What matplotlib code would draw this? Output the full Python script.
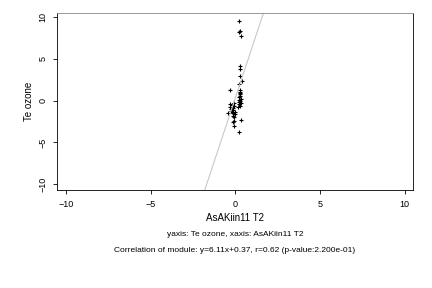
import numpy as np
import matplotlib
matplotlib.use("Agg")
import matplotlib.pyplot as plt

# valeurs
x_vals = [0.22, 0.25, 0.22, 0.31, 0.29, 0.25, 0.25, 0.37, 0.20, -0.33,
          0.29, 0.25, 0.22, 0.29, 0.22, 0.18, 0.30, 0.27, 0.32, 0.24,
          0.28, 0.26, 0.31, 0.21, -0.10, -0.08, -0.12, -0.15, -0.05, -0.20,
          -0.18, -0.25, -0.22, -0.30, -0.28, -0.45, -0.14, -0.06, -0.10, 0.33,
          -0.14, -0.10, 0.22, -0.02, -0.35, -0.12]
y_vals = [9.5, 8.4, 8.25, 7.8, 4.2, 3.8, 2.9, 2.3, 2.0, 1.28,
          1.28, 0.9, 0.4, 0.0, -0.4, -0.8, 1.0, 0.6, 0.2, -0.2,
          -0.6, 0.8, -0.3, 0.1, -0.3, -0.6, -0.9, -1.1, -1.3, -0.5,
          -0.8, -1.0, -1.4, -0.7, -1.2, -1.5, -1.8, -2.0, -2.4, -2.3,
          -2.6, -3.0, -3.8, -1.6, -0.4, -1.5]
pente = 6.11
origine = 0.37
titre_x = "AsAKiin11 T2"
titre_y = "Te ozone"
ligne1 = "yaxis: Te ozone, xaxis: AsAKiin11 T2"
ligne2 = "Correlation of module: y=6.11x+0.37, r=0.62 (p-value:2.200e-01)"

plt.rcParams['font.family'] = ['Liberation Sans', 'DejaVu Sans']
fig = plt.figure(figsize=(4.32, 2.88), dpi=100)
ax = fig.add_axes([57/432, 1 - 190/288, 356/432, 177/288])

ax.axline((0, origine), slope=pente, color='#c8c8c8', lw=0.8)
ax.scatter(x_vals, y_vals, marker='+', color='black', s=10, linewidths=0.8)

ax.set_xlim(-10.55, 10.5)
ax.set_ylim(-10.7, 10.5)
ax.set_xticks([-10, -5, 0, 5, 10])
ax.set_yticks([-10, -5, 0, 5, 10])
ax.tick_params(labelsize=6.5, length=3, width=0.6, pad=4)
for lab in ax.get_yticklabels():
    lab.set_rotation(90)
    lab.set_va('center')
for s in ax.spines.values():
    s.set_linewidth(0.6)
ax.spines['top'].set_color('#888888')

ax.set_xlabel(titre_x, fontsize=7, labelpad=3)
ax.set_ylabel(titre_y, fontsize=7, labelpad=3)
fig.text(235/432, 1 - 235/288, ligne1, ha='center', va='center', fontsize=6)
fig.text(235/432, 1 - 250/288, ligne2, ha='center', va='center', fontsize=6)

fig.savefig("out.png", dpi=100)
